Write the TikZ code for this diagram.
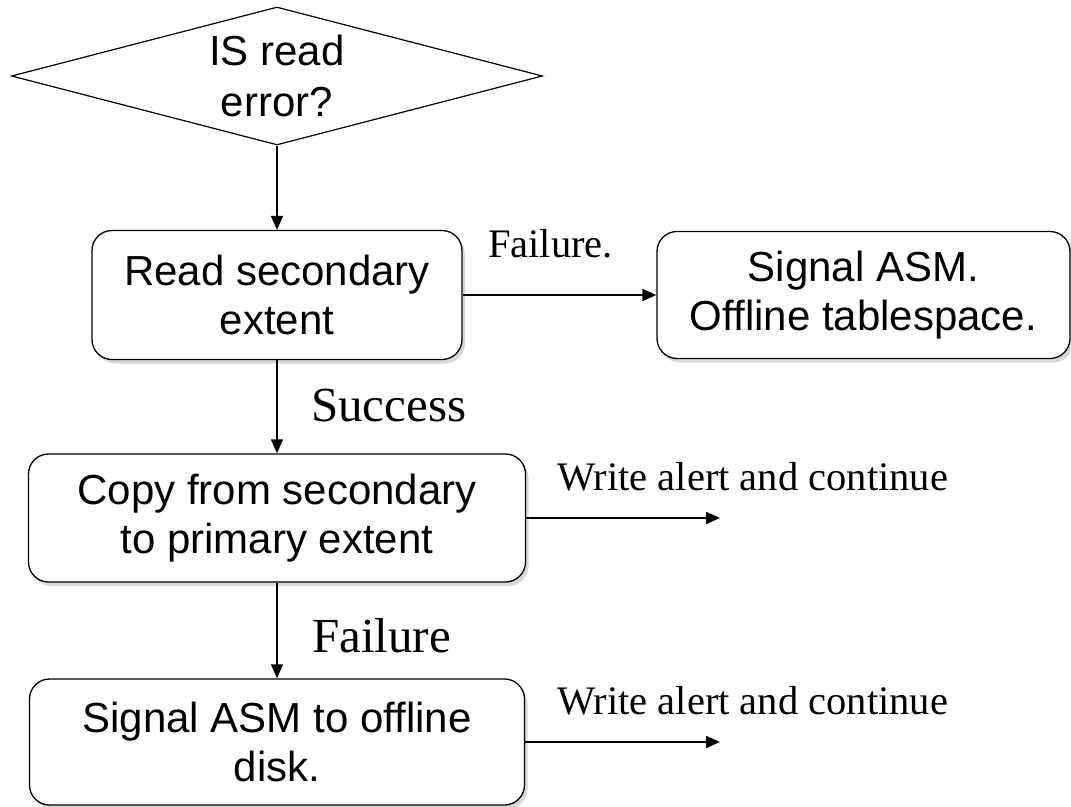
\documentclass[tikz,border=0pt]{standalone}
\usepackage{fontspec}
\setmainfont{Liberation Sans}
\newfontfamily\labelfont{Liberation Serif}
\usepackage{tikz}
\usetikzlibrary{arrows.meta, shapes.geometric, shadows, positioning}
\definecolor{boxshadow}{RGB}{140, 140, 140}

\begin{document}
\begin{tikzpicture}[x=1pt, y=-1pt,
	stepbox/.style={draw=black, line width=1.3pt, fill=white, rounded corners=20pt,
		align=center, inner sep=0pt, font=\fontsize{42}{49}\selectfont,
		drop shadow={shadow xshift=3pt, shadow yshift=-4pt, fill=boxshadow, opacity=0.35}},
	decision/.style={diamond, draw=black, line width=1.2pt, fill=white, aspect=3.85,
		inner sep=0pt, minimum width=531pt, minimum height=138pt, align=center,
		font=\fontsize{42}{51}\selectfont},
	edgelabel/.style={font=\labelfont\fontsize{40.5}{46}\selectfont, inner sep=0pt, anchor=west},
	biglabel/.style={font=\labelfont\fontsize{49}{56}\selectfont, inner sep=0pt, anchor=west},
	vflow/.style={-{Triangle[length=14pt, width=12pt]}, line width=1.3pt},
	hflow/.style={-{Triangle[length=14pt, width=12pt]}, line width=2pt}
	]
	\useasboundingbox (0,0) rectangle (1071,806);
	\node[decision] (isread) at (277, 76) {IS read\\error?};
	\node[stepbox, minimum width=370pt, minimum height=129pt] (readsec) at (277, 295)
	{Read secondary\\extent};
	\node[stepbox, minimum width=413pt, minimum height=127pt] (signaltbs) at (863.5, 295)
	{Signal ASM.\\Offline tablespace.};
	\node[stepbox, minimum width=497pt, minimum height=128pt] (copyext) at (277, 518)
	{Copy from secondary\\to primary extent};
	\node[stepbox, minimum width=495pt, minimum height=126pt] (signaldisk) at (277, 742)
	{Signal ASM to offline\\disk.};
	\coordinate (alertcopy) at (720, 518);
	\coordinate (alertdisk) at (720, 742);
	\draw[vflow] (isread.south) -- (readsec.north);
	\draw[hflow] (readsec.east) -- (signaltbs.west);
	\draw[vflow] (readsec.south) -- (copyext.north);
	\draw[hflow] (copyext.east) -- (alertcopy);
	\draw[vflow] (copyext.south) -- (signaldisk.north);
	\draw[hflow] (signaldisk.east) -- (alertdisk);
	\node[edgelabel] (failtbs) at (488, 244) {Failure.};
	\node[biglabel] (success) at (311, 406) {Success};
	\node[edgelabel] (writecopy) at (557, 477) {Write alert and continue};
	\node[biglabel] (faildisk) at (312, 636) {Failure};
	\node[edgelabel] (writedisk) at (557, 701) {Write alert and continue};
\end{tikzpicture}
\end{document}
